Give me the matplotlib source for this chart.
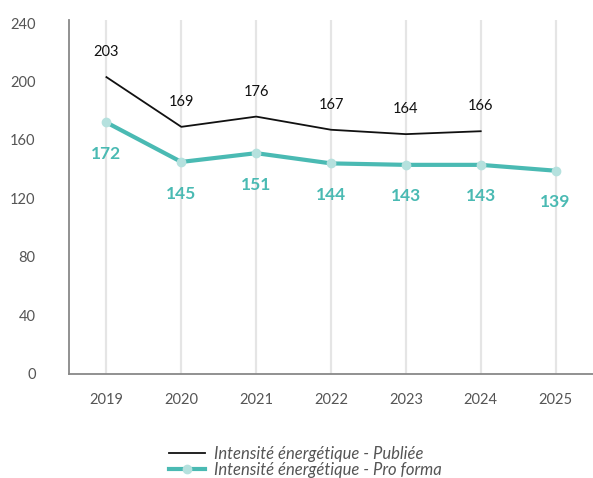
import matplotlib.pyplot as plt

annees = ['2019', '2020', '2021', '2022', '2023', '2024', '2025']
publiee = [203, 169, 176, 167, 164, 166]
pro_forma = [172, 145, 151, 144, 143, 143, 139]
graduations = [0, 40, 80, 120, 160, 200, 240]

noir = '#111111'
turquoise = '#4ABAB3'
turquoise_clair = '#B5E1DE'
gris = '#555555'

plt.rcParams['font.family'] = ['Lato', 'DejaVu Sans']

fig = plt.figure(figsize=(5.93, 4.78), dpi=100)
ax = fig.add_axes([0.1164, 0.2176, 0.8836, 0.7404])

x_pub = list(range(len(publiee)))
x_pro = list(range(len(pro_forma)))

for x in x_pro:
    ax.axvline(x, color='#e5e5e5', lw=1.6, zorder=0)

ax.plot(x_pub, publiee, color=noir, lw=1.3, label='Intensité énergétique - Publiée', zorder=3)
ax.plot(x_pro, pro_forma, color=turquoise, lw=3, marker='o', markersize=6,
        markerfacecolor=turquoise_clair, markeredgecolor=turquoise_clair,
        label='Intensité énergétique - Pro forma', zorder=4)

for x, v in zip(x_pub, publiee):
    ax.annotate(str(v), (x, v), xytext=(0, 13), textcoords='offset points',
                ha='center', va='bottom', fontsize=10.5, color=noir)
for x, v in zip(x_pro, pro_forma):
    ax.annotate(str(v), (x, v), xytext=(0, -17), textcoords='offset points',
                ha='center', va='top', fontsize=12.5, fontweight='bold', color=turquoise)

ax.set_xlim(-0.5, 6.5)
ax.set_ylim(0, 242)
ax.set_xticks(x_pro)
ax.set_xticklabels(annees)
ax.set_yticks(graduations)
ax.tick_params(axis='both', length=0, colors=gris, labelsize=10.5)
ax.tick_params(axis='y', pad=24)
ax.tick_params(axis='x', pad=14)

for s in ['top', 'right']:
    ax.spines[s].set_visible(False)
ax.spines['left'].set_color('#888888')
ax.spines['bottom'].set_color('#888888')
ax.spines['left'].set_linewidth(1.3)
ax.spines['bottom'].set_linewidth(1.3)

leg = fig.legend(loc='lower center', bbox_to_anchor=(0.515, -0.025), frameon=False,
                 prop={'style': 'italic', 'size': 12}, handlelength=2.2,
                 labelspacing=0.0, borderpad=0.2, handletextpad=0.55)
for t in leg.get_texts():
    t.set_color(gris)

fig.savefig('out.png', dpi=100)
